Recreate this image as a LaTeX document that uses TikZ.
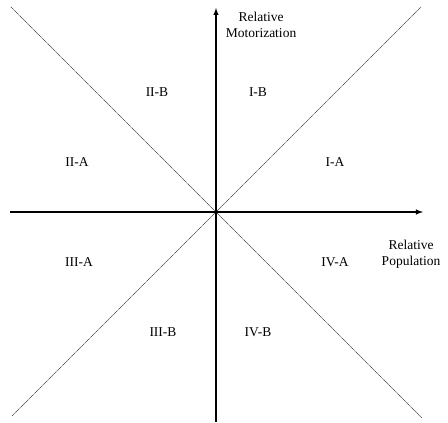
\documentclass[tikz,border=0pt]{standalone}
\usepackage{fontspec}
\setmainfont{Liberation Serif}
\usepgflibrary{arrows}

\begin{document}
\begin{tikzpicture}[x=1pt, y=1pt, >=latex,
  axis/.style={line width=1.4pt},
  diag/.style={dash pattern=on 1.2pt off 0.6pt, line width=0.7pt, black!80},
  zone/.style={font=\fontsize{13.5}{15}\selectfont},
  title/.style={font=\fontsize{13.5}{16}\selectfont, align=center}]
\useasboundingbox (-216,-211) rectangle (232,212);
\coordinate (o) at (0,0);
\coordinate (xl) at (-206,0);
\coordinate (xr) at (207,0);
\coordinate (yb) at (0,-210);
\coordinate (yt) at (0,204);
\coordinate (tl) at (-205,205);
\coordinate (tr) at (205,205);
\coordinate (bl) at (-204,-204);
\coordinate (br) at (206,-206);
\draw[diag]  (tl) -- (br);
\draw[diag]  (bl) -- (tr);
\draw[axis, ->]  (xl) -- (xr);
\draw[axis, ->]  (yb) -- (yt);
\node[title] (motor) at (45,187) {Relative\\Motorization};
\node[title] (popul) at (195,-42) {Relative\\Population};
\node[zone] (ib) at (42,120) {I-B};
\node[zone] (iib) at (-59,120) {II-B};
\node[zone] (iia) at (-139,50) {II-A};
\node[zone] (ia) at (119,50) {I-A};
\node[zone] (iiia) at (-137,-50) {III-A};
\node[zone] (iva) at (119,-50) {IV-A};
\node[zone] (iiib) at (-53,-120) {III-B};
\node[zone] (ivb) at (42,-120) {IV-B};
\end{tikzpicture}
\end{document}
